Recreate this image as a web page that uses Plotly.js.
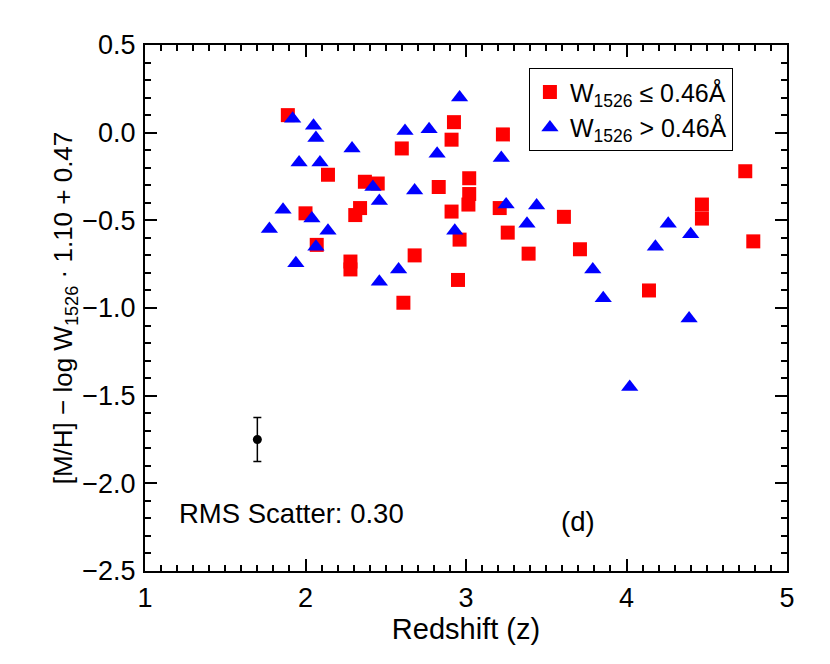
<!DOCTYPE html>
<html>
<head>
<meta charset="utf-8">
<script src="https://cdn.plot.ly/plotly-3.0.1.min.js"></script>
<style>body{margin:0;background:#fff}</style>
</head>
<body>
<div id="plot" style="width:830px;height:664px"></div>
<script>
// W1526 <= 0.46 A (red squares)
var redX = [1.89, 2.14, 2.37, 2.45, 2.60, 2.925, 2.91, 2.83, 2.91, 2.00, 2.34, 2.31,
            3.23, 3.02, 3.02, 3.015, 3.21, 3.61, 4.74, 4.47, 4.47, 2.07, 2.96, 2.28,
            2.28, 2.68, 2.95, 2.61, 3.26, 3.39, 3.71, 4.79, 4.14];
var redY = [0.10, -0.24, -0.28, -0.29, -0.09, 0.06, -0.04, -0.31, -0.45, -0.46, -0.43, -0.47,
            -0.01, -0.26, -0.35, -0.41, -0.43, -0.48, -0.22, -0.41, -0.49, -0.64, -0.61, -0.735,
            -0.78, -0.70, -0.84, -0.97, -0.57, -0.69, -0.665, -0.62, -0.90];

// W1526 > 0.46 A (blue triangles)
var blueX = [1.92, 2.05, 2.065, 2.29, 1.96, 2.09, 2.42, 2.46, 2.68, 2.62, 2.77, 2.82,
             2.96, 1.86, 2.04, 1.775, 2.14, 2.93, 3.22, 3.25, 3.44, 3.38, 4.26, 2.065,
             1.94, 2.46, 2.58, 3.79, 3.855, 4.18, 4.40, 4.39, 4.02];
var blueY = [0.08, 0.04, -0.03, -0.09, -0.17, -0.17, -0.31, -0.39, -0.33, 0.01, 0.02, -0.12,
             0.20, -0.44, -0.49, -0.55, -0.56, -0.56, -0.145, -0.41, -0.415, -0.52, -0.52, -0.65,
             -0.745, -0.85, -0.78, -0.78, -0.945, -0.65, -0.58, -1.06, -1.45];

// typical error bar
var errX = [1.70];
var errY = [-1.75];
var errSize = [0.125];

var font = 'Liberation Sans, Arial, Helvetica, sans-serif';

var low = {
  x: redX, y: redY,
  mode: 'markers', type: 'scatter',
  name: 'W<sub>1526</sub> ≤ 0.46Å',
  marker: {symbol: 'square', size: 14, color: '#ff0000'}
};

var high = {
  x: blueX, y: blueY,
  mode: 'markers', type: 'scatter',
  name: 'W<sub>1526</sub> > 0.46Å',
  marker: {symbol: 'triangle-up', size: 15, color: '#0000ff'}
};

var err = {
  x: errX, y: errY,
  mode: 'markers', type: 'scatter',
  showlegend: false,
  marker: {symbol: 'circle', size: 9, color: 'black'},
  error_y: {type: 'data', array: errSize, visible: true, color: 'black', thickness: 1.5, width: 4}
};

var axisStyle = {
  showline: true, linecolor: 'black', linewidth: 2, mirror: 'ticks',
  ticks: 'inside', ticklen: 12, tickwidth: 2, tickcolor: 'black',
  showgrid: false, zeroline: false,
  tickfont: {family: font, size: 27, color: 'black'}
};

var layout = {
  width: 830, height: 664,
  margin: {l: 145, r: 43, t: 45, b: 93},
  paper_bgcolor: 'white', plot_bgcolor: 'white',
  font: {family: font, color: 'black'},
  showlegend: true,
  legend: {
    x: 0.598, y: 0.956, xanchor: 'left', yanchor: 'top',
    bordercolor: 'black', borderwidth: 1, bgcolor: 'white',
    font: {family: font, size: 25, color: 'black'},
    tracegroupgap: 0
  },
  xaxis: Object.assign({}, axisStyle, {
    range: [1, 5], dtick: 1, tick0: 1,
    ticklabelstandoff: 2,
    minor: {dtick: 0.1, ticks: 'inside', ticklen: 6, tickwidth: 1.5, tickcolor: 'black'},
    title: {text: 'Redshift (z)', font: {family: font, size: 29}, standoff: 4}
  }),
  yaxis: Object.assign({}, axisStyle, {
    range: [-2.5, 0.5], dtick: 0.5, tick0: 0, tickformat: '.1f',
    ticklabelstandoff: 2,
    minor: {dtick: 0.1, ticks: 'inside', ticklen: 6, tickwidth: 1.5, tickcolor: 'black'},
    title: {text: '[M/H] − log W<sub>1526</sub> · 1.10 + 0.47', font: {family: font, size: 26}, standoff: 2}
  }),
  annotations: [
    {x: 1.2, y: -2.17, xref: 'x', yref: 'y', xanchor: 'left', showarrow: false,
     text: 'RMS Scatter: 0.30', font: {family: font, size: 27.5, color: 'black'}},
    {x: 3.7, y: -2.22, xref: 'x', yref: 'y', xanchor: 'center', showarrow: false,
     text: '(d)', font: {family: font, size: 27.5, color: 'black'}}
  ]
};

Plotly.newPlot('plot', [low, high, err], layout, {displayModeBar: false});
</script>
</body>
</html>
